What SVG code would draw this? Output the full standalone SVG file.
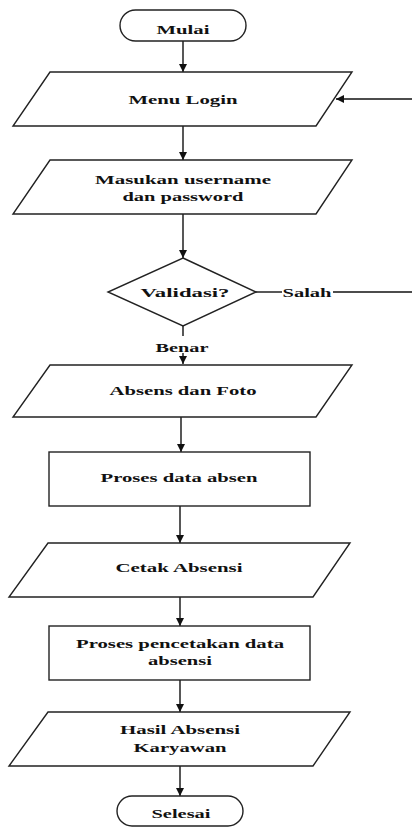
<svg xmlns="http://www.w3.org/2000/svg" width="412" height="827" viewBox="0 0 412 827">
<defs>
<marker id="ah" markerWidth="8" markerHeight="8" refX="8" refY="4" orient="auto" markerUnits="userSpaceOnUse">
<path d="M0,0 L8,4 L0,8 Z" fill="#111"/>
</marker>
<style>
.s{fill:#fff;stroke:#222;stroke-width:1.4}
.c{fill:none;stroke:#111;stroke-width:1.4}
.a{marker-end:url(#ah)}
text{font-family:"Liberation Serif","Times New Roman",serif;font-weight:bold;font-size:13px;fill:#111;text-anchor:middle}
</style>
</defs>
<rect width="412" height="827" fill="#fff"/>
<g id="connectors">
<path class="c a" d="M183,41 V72"/>
<path class="c a" d="M183,126 V160"/>
<path class="c a" d="M183,214 V258"/>
<path class="c" d="M183,326 V336"/>
<path class="c a" d="M183,353 V364"/>
<path class="c a" d="M181,417 V452"/>
<path class="c a" d="M180,506 V543"/>
<path class="c a" d="M180,597 V626"/>
<path class="c a" d="M180,680 V712"/>
<path class="c a" d="M180,766 V796"/>
<path class="c" d="M256,292 H282"/>
<path class="c" d="M333,292 H412"/>
<path class="c a" d="M412,99 H336"/>
<text x="182" y="352" textLength="53" lengthAdjust="spacingAndGlyphs">Benar</text>
<text x="307" y="297" textLength="49" lengthAdjust="spacingAndGlyphs">Salah</text>
</g>
<g id="mulai">
<rect class="s" x="120" y="10" width="126" height="31" rx="15.5"/>
<text x="183" y="34" textLength="53" lengthAdjust="spacingAndGlyphs">Mulai</text>
</g>
<g id="menu-login">
<polygon class="s" points="50,72 352,72 316,126 13,126"/>
<text x="183" y="104" textLength="109" lengthAdjust="spacingAndGlyphs">Menu Login</text>
</g>
<g id="masukan">
<polygon class="s" points="50,160 352,160 316,214 13,214"/>
<text x="183" y="184" textLength="176" lengthAdjust="spacingAndGlyphs">Masukan username</text>
<text x="183" y="201" textLength="121" lengthAdjust="spacingAndGlyphs">dan password</text>
</g>
<g id="validasi">
<polygon class="s" points="183,258 256,292 183,326 108,292"/>
<text x="185" y="297" textLength="89" lengthAdjust="spacingAndGlyphs">Validasi?</text>
</g>
<g id="absens">
<polygon class="s" points="50,365 352,365 316,417 13,417"/>
<text x="183" y="395" textLength="147" lengthAdjust="spacingAndGlyphs">Absens dan Foto</text>
</g>
<g id="proses-data">
<rect class="s" x="49" y="452" width="261" height="54"/>
<text x="179" y="482" textLength="157" lengthAdjust="spacingAndGlyphs">Proses data absen</text>
</g>
<g id="cetak">
<polygon class="s" points="48,543 350,543 313,597 9,597"/>
<text x="179" y="572" textLength="127" lengthAdjust="spacingAndGlyphs">Cetak Absensi</text>
</g>
<g id="proses-cetak">
<rect class="s" x="49" y="626" width="261" height="54"/>
<text x="180" y="648" textLength="208" lengthAdjust="spacingAndGlyphs">Proses pencetakan data</text>
<text x="180" y="665" textLength="64" lengthAdjust="spacingAndGlyphs">absensi</text>
</g>
<g id="hasil">
<polygon class="s" points="48,712 350,712 313,766 9,766"/>
<text x="180" y="734" textLength="120" lengthAdjust="spacingAndGlyphs">Hasil Absensi</text>
<text x="180" y="752" textLength="93" lengthAdjust="spacingAndGlyphs">Karyawan</text>
</g>
<g id="selesai">
<rect class="s" x="117" y="796" width="126" height="30" rx="15"/>
<text x="181" y="818" textLength="59" lengthAdjust="spacingAndGlyphs">Selesai</text>
</g>
</svg>
